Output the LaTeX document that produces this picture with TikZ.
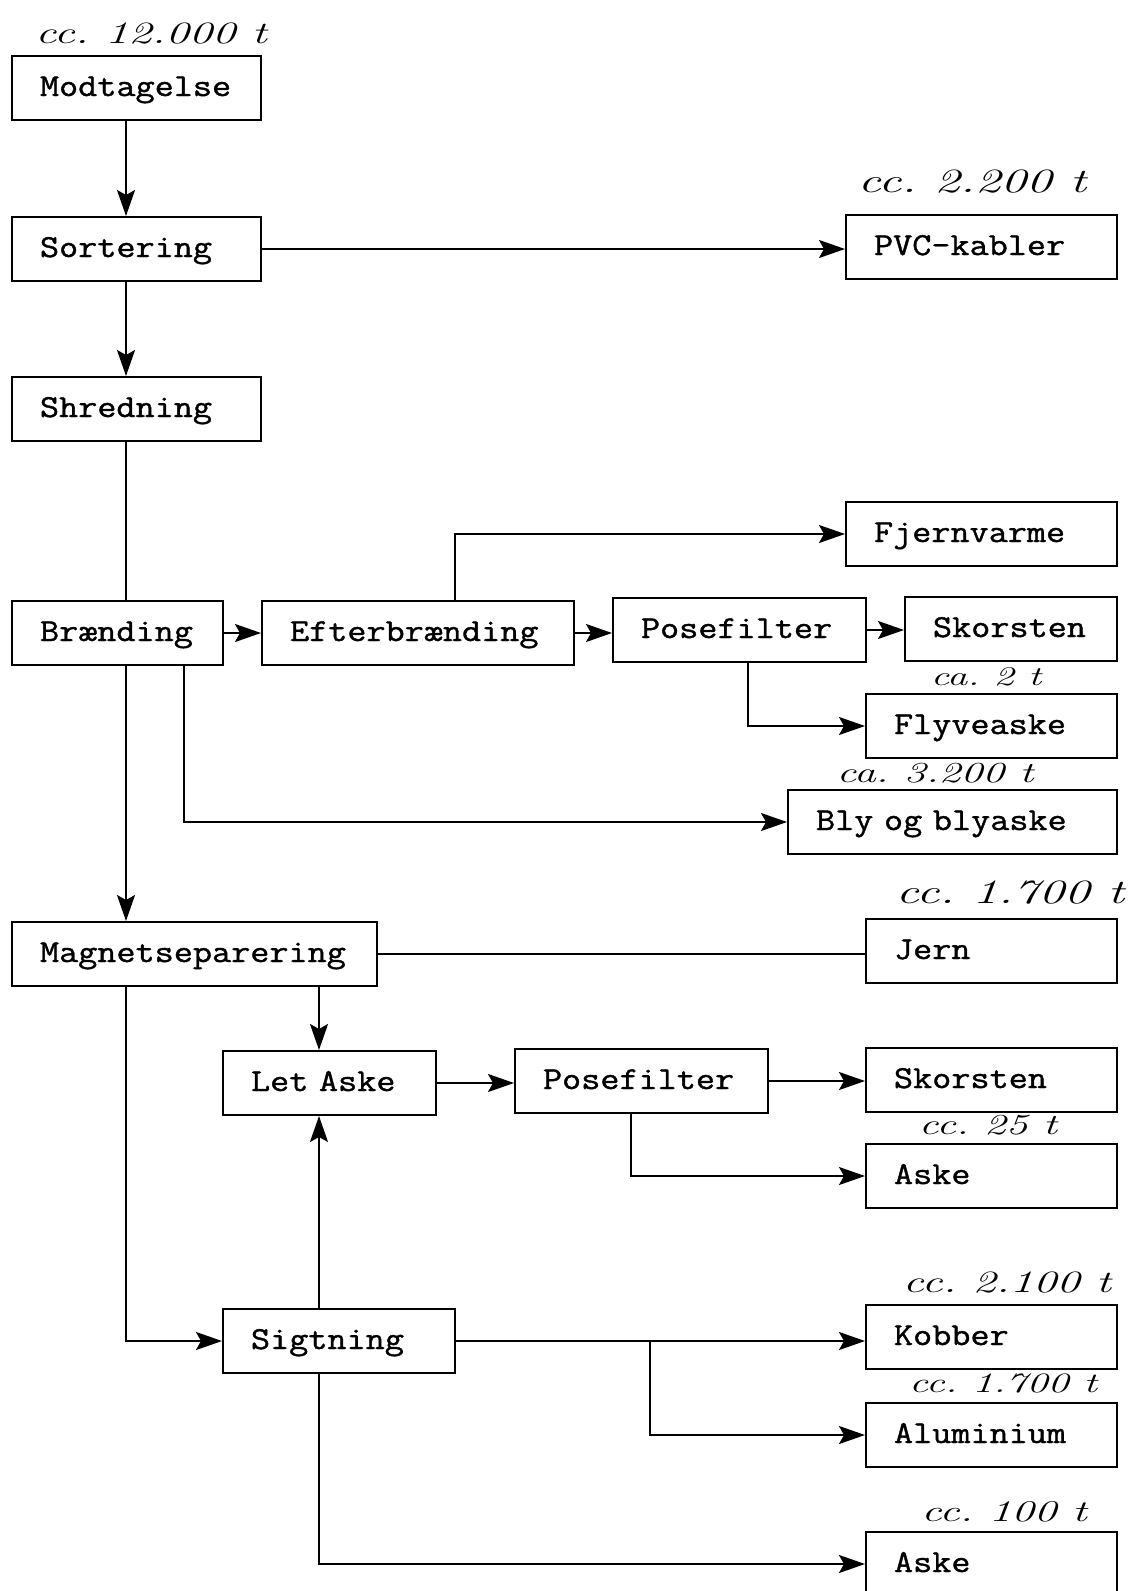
\documentclass[tikz,border=0pt]{standalone}
\usepackage{fontspec}
\newfontfamily\boxfont[FakeStretch=1.16,FakeBold=1.2]{Latin Modern Mono}
\newfontfamily\handfont[FakeStretch=1.5]{Latin Modern Roman}
\usetikzlibrary{arrows.meta}
\begin{document}
\begin{tikzpicture}[x=1pt,y=-1pt,
  box/.style={draw, line width=2pt, minimum height=64pt, inner xsep=28pt, inner ysep=0pt,
    align=left, anchor=north west, text height=24pt, text depth=8pt,
    font=\boxfont\fontsize{32}{36}\selectfont},
  conn/.style={line width=2pt},
  arr/.style={conn, -{Stealth[length=26pt,width=18pt,inset=5pt]}},
  qty/.style={font=\frenchspacing\handfont\itshape\fontsize{#1}{#1}\selectfont, inner sep=0pt, anchor=base}]
\useasboundingbox[fill=white] (0,0) rectangle (1138,1591);

% boxes
\node[box, text width=193pt] (modt) at (11,55) {Modtagelse};
\node[box, text width=193pt] (sort) at (11,216) {Sortering};
\node[box, text width=193pt] (shred) at (11,376) {Shredning};
\node[box, text width=215pt] (pvc) at (845,214) {PVC-kabler};
\node[box, text width=215pt] (fjern) at (845,501) {Fjernvarme};
\node[box, text width=155pt] (braend) at (11,600) {Brænding};
\node[box, text width=256pt] (efter) at (261,600) {Efterbrænding};
\node[box, text width=197pt] (pose1) at (612,597) {Posefilter};
\node[box, text width=156pt] (skor1) at (904,596) {Skorsten};
\node[box, text width=195pt] (flyve) at (865,693) {Flyveaske};
\node[box, text width=273pt] (bly) at (787,789) {Bly og blyaske};
\node[box, text width=195pt] (jern) at (865,918) {Jern};
\node[box, text width=309pt] (magnet) at (11,921) {Magnetseparering};
\node[box, text width=157pt] (letaske) at (222,1050) {Let Aske};
\node[box, text width=197pt] (pose2) at (514,1048) {Posefilter};
\node[box, text width=195pt] (skor2) at (865,1047) {Skorsten};
\node[box, text width=195pt] (aske1) at (865,1143) {Aske};
\node[box, text width=195pt] (kobber) at (865,1304) {Kobber};
\node[box, text width=176pt] (sigt) at (222,1308) {Sigtning};
\node[box, text width=195pt] (alu) at (865,1402) {Aluminium};
\node[box, text width=195pt] (aske2) at (865,1531) {Aske};

% helper x positions
\coordinate (xmain) at (126,0);
\coordinate (xfj) at (455,0);
\coordinate (xfly) at (748,0);
\coordinate (xbly) at (184,0);
\coordinate (xla) at (319,0);
\coordinate (xask) at (631,0);
\coordinate (xalu) at (650,0);

% connectors
\draw[arr] (modt.south -| xmain) -- (sort.north -| xmain);
\draw[arr] (sort.south -| xmain) -- (shred.north -| xmain);
\draw[arr] (sort.east) -- (sort.east -| pvc.west);
\draw[conn] (shred.south -| xmain) -- (braend.north -| xmain);
\draw[arr] (braend.south -| xmain) -- (magnet.north -| xmain);
\draw[arr] (braend.east) -- (efter.west);
\draw[arr] (efter.east) -- (efter.east -| pose1.west);
\draw[arr] (pose1.east) -- (pose1.east -| skor1.west);
\draw[arr] (efter.north -| xfj) |- (fjern.west);
\draw[arr] (pose1.south -| xfly) |- (flyve.west);
\draw[arr] (braend.south -| xbly) |- (bly.west);
\draw[conn] (magnet.east) -- (magnet.east -| jern.west);
\draw[arr] (magnet.south -| xla) -- (letaske.north -| xla);
\draw[arr] (magnet.south -| xmain) |- (sigt.west);
\draw[arr] (letaske.east) -- (letaske.east -| pose2.west);
\draw[arr] (pose2.east) -- (pose2.east -| skor2.west);
\draw[arr] (pose2.south -| xask) |- (aske1.west);
\draw[arr] (sigt.north -| xla) -- (letaske.south -| xla);
\draw[arr] (sigt.east) -- (sigt.east -| kobber.west);
\coordinate (branch) at (sigt.east -| xalu);
\draw[arr] (branch) |- (alu.west);
\draw[arr] (sigt.south -| xla) |- (aske2.west);

% handwritten quantities (positioned at baseline)
\node[qty=31] (q0) at (151,43) {cc. 12.000 t};
\node[qty=34] (q1) at (972,192) {cc. 2.200 t};
\node[qty=27] (q2) at (986,685) {ca. 2 t};
\node[qty=29] (q3) at (935,782) {ca. 3.200 t};
\node[qty=34] (q4) at (1010,903) {cc. 1.700 t};
\node[qty=29] (q5) at (988,1134) {cc. 25 t};
\node[qty=31] (q6) at (1007,1292) {cc. 2.100 t};
\node[qty=28] (q7) at (1003,1392) {cc. 1.700 t};
\node[qty=30] (q8) at (1004,1521) {cc. 100 t};
\end{tikzpicture}
\end{document}
